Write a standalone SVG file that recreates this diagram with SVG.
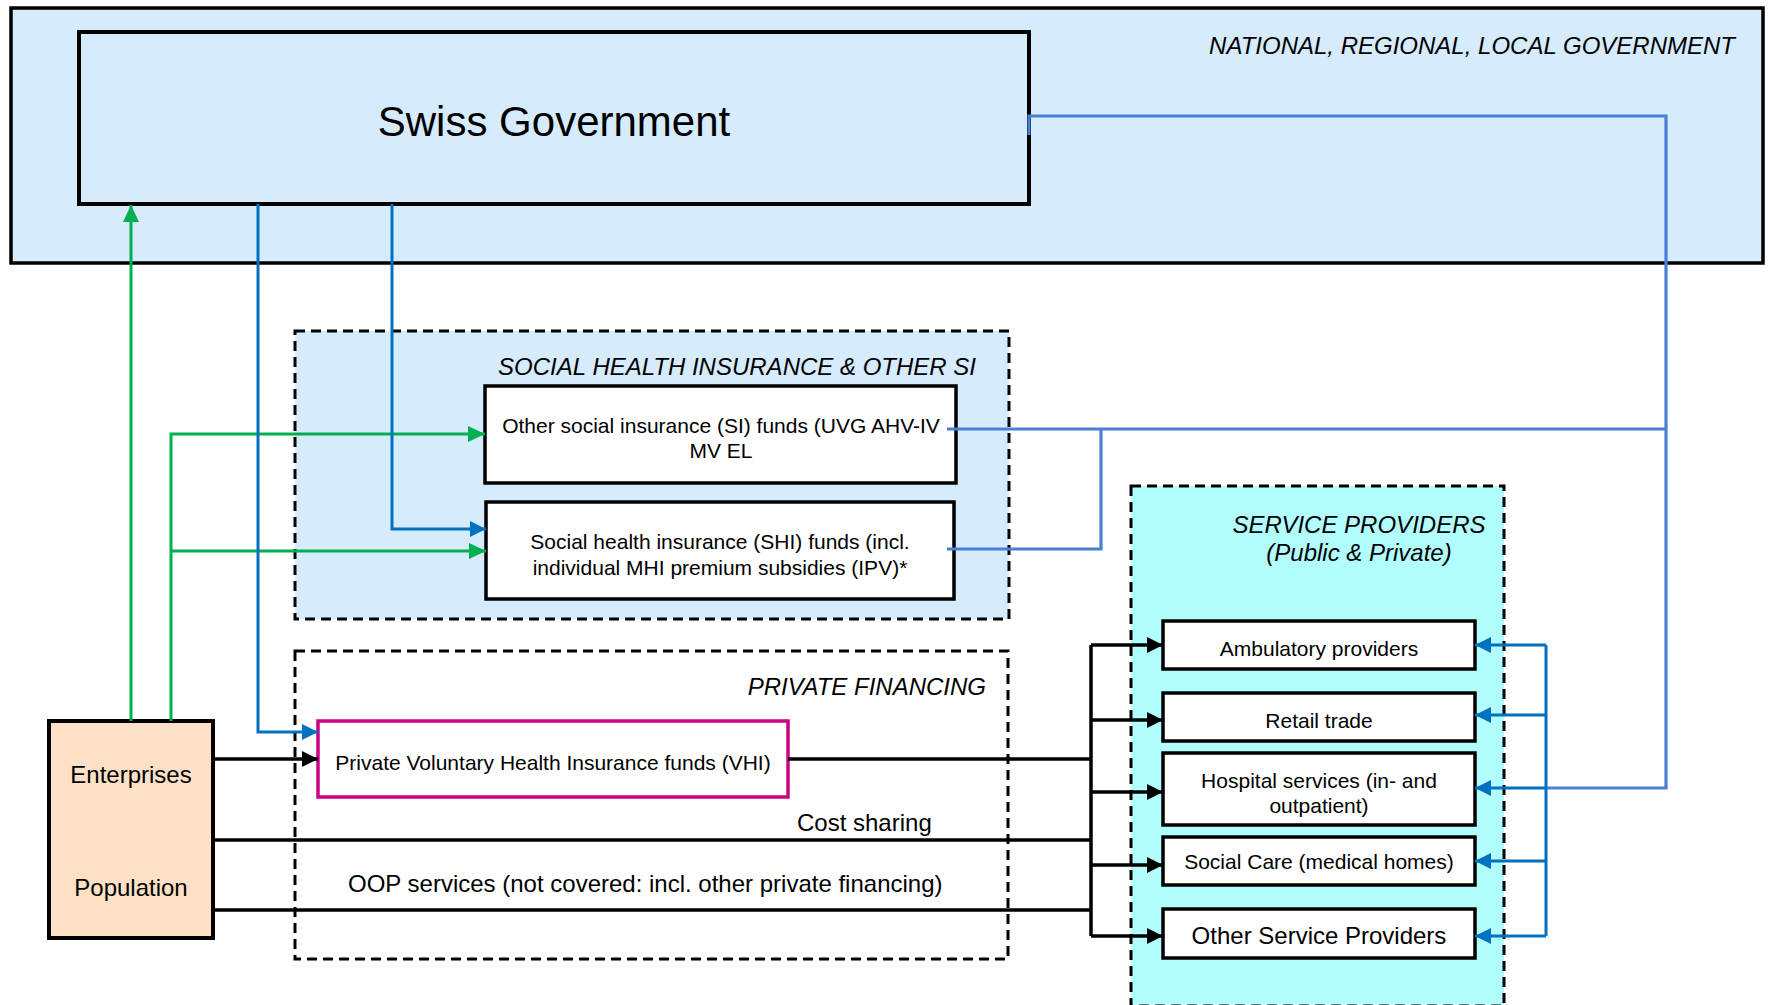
<svg xmlns="http://www.w3.org/2000/svg" width="1770" height="1005" viewBox="0 0 1770 1005">
<defs>
<style>
.t{font-family:"Liberation Sans",Arial,sans-serif;fill:#000}
.i{font-style:italic}
.box{fill:#fff;stroke:#000;stroke-width:3.5}
.grp{stroke:#000;stroke-width:3;stroke-dasharray:10 6}
.blk{stroke:#000;stroke-width:3.5;fill:none}
.dbl{stroke:#0070C0;stroke-width:3;fill:none}
.lbl{stroke:#4A7FD6;stroke-width:3.2;fill:none}
.grn{stroke:#00B050;stroke-width:3;fill:none}
</style>
<marker id="ak" markerUnits="userSpaceOnUse" markerWidth="16" markerHeight="16" refX="16" refY="8" orient="auto"><path d="M0,0 L16,8 L0,16 z" fill="#000"/></marker>
<marker id="ab" markerUnits="userSpaceOnUse" markerWidth="16" markerHeight="16" refX="16" refY="8" orient="auto"><path d="M0,0 L16,8 L0,16 z" fill="#0070C0"/></marker>
<marker id="ag" markerUnits="userSpaceOnUse" markerWidth="17" markerHeight="16" refX="17" refY="8" orient="auto"><path d="M0,0 L17,8 L0,16 z" fill="#00B050"/></marker>
</defs>

<g id="gov-area">
<rect x="11" y="8" width="1752" height="255" fill="#D6EBFC" stroke="#000" stroke-width="3.5"/>
<text class="t i" x="1735" y="54" font-size="24" text-anchor="end">NATIONAL, REGIONAL, LOCAL GOVERNMENT</text>
</g>
<g id="swiss-gov">
<rect x="79" y="32" width="950" height="172" fill="#D6EBFC" stroke="#000" stroke-width="4"/>
<text class="t" x="554" y="136" font-size="42" text-anchor="middle">Swiss Government</text>
</g>

<g id="shi-group">
<rect class="grp" x="295" y="331" width="714" height="288" fill="#D6EBFC"/>
<text class="t i" x="976" y="375" font-size="24" text-anchor="end">SOCIAL HEALTH INSURANCE &amp; OTHER SI</text>
</g>
<g id="other-si">
<rect class="box" x="485" y="386" width="471" height="97"/>
<text class="t" x="721" y="433" font-size="21" text-anchor="middle">Other social insurance (SI) funds (UVG AHV-IV</text>
<text class="t" x="721" y="458" font-size="21" text-anchor="middle">MV EL</text>
</g>
<g id="shi">
<rect class="box" x="486" y="502" width="468" height="97"/>
<text class="t" x="720" y="549" font-size="21" text-anchor="middle">Social health insurance (SHI) funds (incl.</text>
<text class="t" x="720" y="575" font-size="21" text-anchor="middle">individual MHI premium subsidies (IPV)*</text>
</g>

<g id="private-group">
<rect class="grp" x="295" y="651" width="713" height="308" fill="none"/>
<text class="t i" x="986" y="695" font-size="24" text-anchor="end">PRIVATE FINANCING</text>
</g>
<g id="vhi">
<rect x="318" y="721" width="470" height="76" fill="#fff" stroke="#CC0085" stroke-width="3.5"/>
<text class="t" x="553" y="770" font-size="21" text-anchor="middle">Private Voluntary Health Insurance funds (VHI)</text>
</g>

<g id="enterprises-population">
<rect x="49" y="721" width="164" height="217" fill="#FDE0C5" stroke="#000" stroke-width="4"/>
<text class="t" x="131" y="783" font-size="24" text-anchor="middle">Enterprises</text>
<text class="t" x="131" y="896" font-size="24" text-anchor="middle">Population</text>
</g>

<g id="providers-group">
<rect class="grp" x="1131" y="486" width="373" height="520" fill="#B2FEFE"/>
<text class="t i" x="1359" y="533" font-size="24" text-anchor="middle">SERVICE PROVIDERS</text>
<text class="t i" x="1359" y="561" font-size="24" text-anchor="middle">(Public &amp; Private)</text>
</g>
<g id="ambulatory">
<rect class="box" x="1163" y="621" width="312" height="48"/>
<text class="t" x="1319" y="656" font-size="21" text-anchor="middle">Ambulatory providers</text>
</g>
<g id="retail">
<rect class="box" x="1163" y="693" width="312" height="48"/>
<text class="t" x="1319" y="728" font-size="21" text-anchor="middle">Retail trade</text>
</g>
<g id="hospital">
<rect class="box" x="1163" y="753" width="312" height="72"/>
<text class="t" x="1319" y="788" font-size="21" text-anchor="middle">Hospital services (in- and</text>
<text class="t" x="1319" y="813" font-size="21" text-anchor="middle">outpatient)</text>
</g>
<g id="social-care">
<rect class="box" x="1163" y="837" width="312" height="48"/>
<text class="t" x="1319" y="869" font-size="21" text-anchor="middle">Social Care (medical homes)</text>
</g>
<g id="other-providers">
<rect class="box" x="1163" y="909" width="312" height="49"/>
<text class="t" x="1319" y="944" font-size="24" text-anchor="middle">Other Service Providers</text>
</g>

<g id="connectors">
<path class="grn" d="M131,721 V205" marker-end="url(#ag)"/>
<path class="grn" d="M171,721 V434 H485" marker-end="url(#ag)"/>
<path class="grn" d="M171,551 H486" marker-end="url(#ag)"/>
<path class="dbl" d="M258,204 V732 H318" marker-end="url(#ab)"/>
<path class="dbl" d="M392,204 V529 H486" marker-end="url(#ab)"/>
<path class="lbl" d="M1029,135 V116 H1666 V788 H1546"/>
<path class="lbl" d="M947,429 H1666"/>
<path class="lbl" d="M947,549 H1101 V429"/>
<path class="blk" d="M213,759 H318" marker-end="url(#ak)"/>
<path class="blk" d="M788,759 H1091"/>
<path class="blk" d="M213,840 H1091"/>
<path class="blk" d="M213,910 H1091"/>
<path class="blk" d="M1091,645 V936"/>
<path class="blk" d="M1091,645 H1163" marker-end="url(#ak)"/>
<path class="blk" d="M1091,720 H1163" marker-end="url(#ak)"/>
<path class="blk" d="M1091,792 H1163" marker-end="url(#ak)"/>
<path class="blk" d="M1091,865 H1163" marker-end="url(#ak)"/>
<path class="blk" d="M1091,936 H1163" marker-end="url(#ak)"/>
<path class="dbl" d="M1546,645 V936"/>
<path class="dbl" d="M1546,645 H1475" marker-end="url(#ab)"/>
<path class="dbl" d="M1546,715 H1475" marker-end="url(#ab)"/>
<path class="dbl" d="M1546,788 H1475" marker-end="url(#ab)"/>
<path class="dbl" d="M1546,861 H1475" marker-end="url(#ab)"/>
<path class="dbl" d="M1546,936 H1475" marker-end="url(#ab)"/>
<text class="t" x="797" y="831" font-size="24">Cost sharing</text>
<text class="t" x="348" y="892" font-size="24">OOP services (not covered: incl. other private financing)</text>
</g>
</svg>
